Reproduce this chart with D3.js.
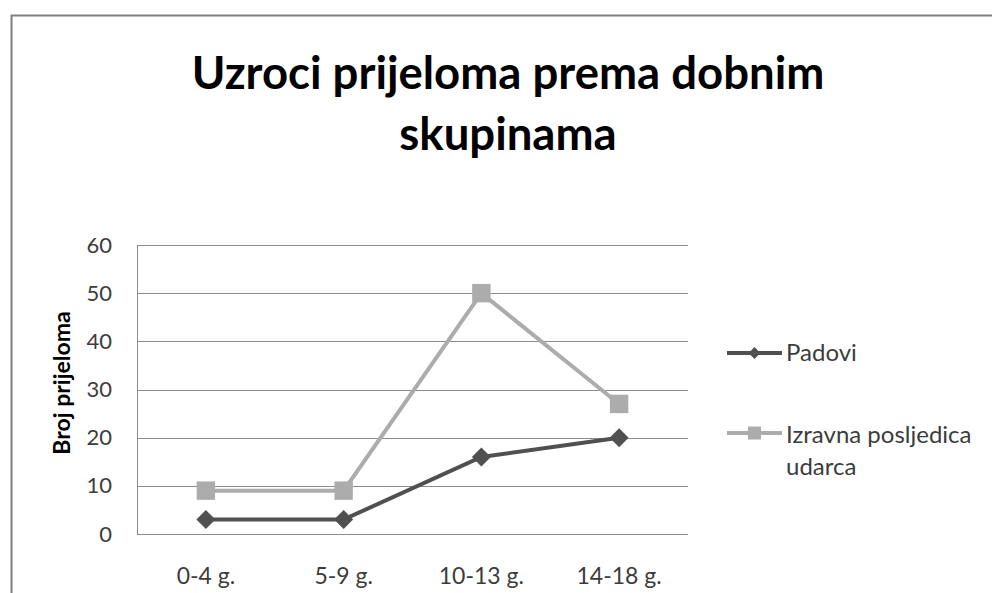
<!DOCTYPE html>
<html>
<head>
<meta charset="utf-8">
<script src="https://cdn.jsdelivr.net/npm/d3@7"></script>
<style>
  body { margin: 0; background: #fff; }
  text { font-family: Lato, "Open Sans", sans-serif; }
</style>
</head>
<body>
<svg></svg>
<script>
// Data
const categories = ["0-4 g.", "5-9 g.", "10-13 g.", "14-18 g."];
const padovi = [3, 3, 16, 20];
const izravna = [9, 9, 50, 27];
const yTicks = [0, 10, 20, 30, 40, 50, 60];
const seriesNames = ["Padovi", "Izravna posljedica udarca"];

const svgWidth = 992;
const svgHeight = 593;
const margins = {top: 245, right: 304, bottom: 59, left: 137};

const chart = d3.select('svg')
	.attr('width', svgWidth)
	.attr('height', svgHeight);

// Outer chart border
chart.append("rect")
	.attr("x", 11.5)
	.attr("y", 15.5)
	.attr("width", svgWidth)
	.attr("height", svgHeight)
	.attr("fill", "none")
	.attr("stroke", "#7f7f7f")
	.attr("stroke-width", 2);

const scaleX = d3.scaleBand()
	.domain(categories)
	.range([margins.left, svgWidth - margins.right]);

const scaleY = d3.scaleLinear()
	.domain([0, 60])
	.range([svgHeight - margins.bottom, margins.top]);

// Title
const title = chart.append("text")
	.attr("text-anchor", "middle")
	.attr("font-weight", "bold")
	.attr("font-size", 45.5)
	.attr("fill", "#000");
title.append("tspan").attr("x", 508).attr("y", 89).text("Uzroci prijeloma prema dobnim");
title.append("tspan").attr("x", 508).attr("y", 150).text("skupinama");

// Gridlines
chart.append("g")
	.selectAll("line")
	.data(yTicks)
	.join("line")
	.attr("x1", margins.left)
	.attr("x2", svgWidth - margins.right)
	.attr("y1", d => Math.round(scaleY(d)) + 0.5)
	.attr("y2", d => Math.round(scaleY(d)) + 0.5)
	.attr("stroke", "#8c8c8c")
	.attr("stroke-width", 1);

// y-axis
chart.append("g")
	.attr("transform", `translate(${margins.left}, 0)`)
	.call(d3.axisLeft(scaleY).tickValues(yTicks).tickSize(0).tickPadding(25))
	.call(g => g.select(".domain").attr("stroke", "#8c8c8c"))
	.call(g => g.selectAll("text")
		.attr("font-size", 22)
		.attr("fill", "#3c3c3c")
		.attr("font-family", "Lato, sans-serif"));

// x-axis
chart.append("g")
	.attr("transform", `translate(0, ${scaleY(0)})`)
	.call(d3.axisBottom(scaleX).tickSize(0).tickPadding(34))
	.call(g => g.select(".domain").remove())
	.call(g => g.selectAll("text")
		.attr("font-size", 23)
		.attr("fill", "#3c3c3c")
		.attr("font-family", "Lato, sans-serif"));

// y-axis title
chart.append("text")
	.attr("transform", `translate(70, 383) rotate(-90)`)
	.attr("text-anchor", "middle")
	.attr("font-weight", "bold")
	.attr("font-size", 23)
	.attr("fill", "#000")
	.text("Broj prijeloma");

const cx = c => scaleX(c) + scaleX.bandwidth() / 2;
const line = d3.line()
	.x((d, i) => cx(categories[i]))
	.y(d => scaleY(d));

const series = [
	{name: seriesNames[0], values: padovi, color: "#505050", rot: 45, size: 180, legendSize: 70},
	{name: seriesNames[1], values: izravna, color: "#acacac", rot: 0, size: 340, legendSize: 170}
];

// Draw lighter series first so the dark one sits on top
series.slice().reverse().forEach(s => {
	chart.append("path")
		.datum(s.values)
		.attr("fill", "none")
		.attr("stroke", s.color)
		.attr("stroke-width", 4)
		.attr("d", line);
	chart.append("g")
		.selectAll("path")
		.data(s.values)
		.join("path")
		.attr("transform", (d, i) => `translate(${cx(categories[i])}, ${scaleY(d)}) rotate(${s.rot})`)
		.attr("d", d3.symbol().type(d3.symbolSquare).size(s.size))
		.attr("fill", s.color);
});

// Legend
const legend = chart.append("g");
const legendY = [353, 433];
series.forEach((s, i) => {
	const g = legend.append("g").attr("transform", `translate(727, ${legendY[i]})`);
	g.append("line")
		.attr("x1", 0).attr("x2", 55)
		.attr("stroke", s.color)
		.attr("stroke-width", 4);
	g.append("path")
		.attr("transform", `translate(27.5, 0) rotate(${s.rot})`)
		.attr("d", d3.symbol().type(d3.symbolSquare).size(s.legendSize))
		.attr("fill", s.color);
});
legend.append("text")
	.attr("x", 786).attr("y", 361)
	.attr("font-size", 24).attr("fill", "#3c3c3c")
	.text("Padovi");
const t2 = legend.append("text")
	.attr("font-size", 24).attr("fill", "#3c3c3c");
t2.append("tspan").attr("x", 786).attr("y", 443).text("Izravna posljedica");
t2.append("tspan").attr("x", 786).attr("y", 475).text("udarca");
</script>
</body>
</html>
